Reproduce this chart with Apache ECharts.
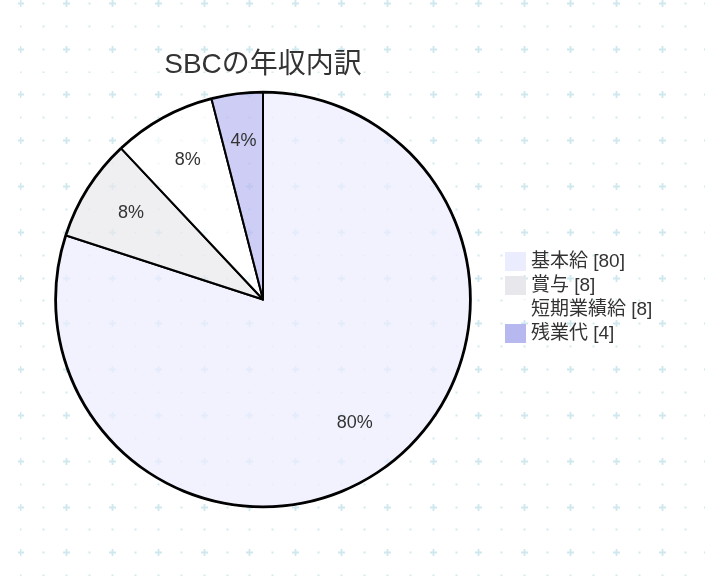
<!DOCTYPE html>
<html>
<head>
<meta charset="utf-8">
<script src="https://cdn.jsdelivr.net/npm/echarts@6/dist/echarts.min.js"></script>
<style>
html,body{margin:0;padding:0;background:#fff;}
#chart{
  width:705px;height:576px;
  background-image:url("data:image/svg+xml;utf8,<svg xmlns='http://www.w3.org/2000/svg' width='46' height='46' viewBox='0 0 46 46'><path d='M8 11.5h7M11.5 8v7' stroke='%23cfe8ee' stroke-width='1.8' fill='none'/><rect x='33.5' y='10.5' width='2' height='2' fill='%23d3eaef'/><rect x='10.5' y='33.5' width='2' height='2' fill='%23d3eaef'/><rect x='33.5' y='33.5' width='2' height='2' fill='%23d3eaef'/></svg>");
  background-size:45.8px 45.8px;
  background-position:9.55px -8.15px;
}
</style>
</head>
<body>
<div id="chart"></div>
<script>
const titleText = 'SBCの年収内訳';
const categories = ['基本給', '賞与', '短期業績給', '残業代'];
const values = [80, 8, 8, 4];
const colors = ['#ECECFF', '#e8e8ec', '#ffffff', '#b8b8f1'];

const FONT = '"Liberation Sans", Arial, "Noto Sans CJK JP", sans-serif';
const R = 207;
const CX = 263, CY = 299.5;
const LABEL_CY = 296.5;
const FILL_ALPHA = 0.7;

function withAlpha(hex, a) {
  const h = hex.replace('#', '');
  const r = parseInt(h.slice(0, 2), 16), g = parseInt(h.slice(2, 4), 16), b = parseInt(h.slice(4, 6), 16);
  return 'rgba(' + r + ',' + g + ',' + b + ',' + a + ')';
}

const chart = echarts.init(document.getElementById('chart'), null, {renderer: 'canvas'});

const mainData = categories.map((c, i) => ({
  name: c, value: values[i],
  itemStyle: {color: withAlpha(colors[i], FILL_ALPHA)}
}));
const plainData = categories.map((c, i) => ({name: c, value: values[i]}));
const legendData = categories.map((c, i) => ({name: c, itemStyle: {color: colors[i], opacity: 1, borderWidth: 0}}));

chart.setOption({
  backgroundColor: 'transparent',
  animation: false,
  title: {
    text: titleText,
    left: CX,
    top: 51,
    padding: 0,
    textAlign: 'center',
    textStyle: {fontFamily: FONT, fontSize: 28, fontWeight: 'normal', color: '#333'}
  },
  legend: {
    orient: 'vertical',
    left: 505,
    top: 252,
    padding: 0,
    itemWidth: 21,
    itemHeight: 19,
    itemGap: 5,
    icon: 'rect',
    data: legendData,
    itemStyle: {borderWidth: 0},
    textStyle: {fontFamily: FONT, fontSize: 19, color: '#333'},
    formatter: function (name) {
      const i = categories.indexOf(name);
      return name + ' [' + values[i] + ']';
    }
  },
  series: [
    {
      type: 'pie',
      center: [CX, CY],
      radius: [0, R],
      startAngle: 90,
      clockwise: true,
      avoidLabelOverlap: false,
      label: {show: false},
      labelLine: {show: false},
      emphasis: {disabled: true},
      itemStyle: {borderColor: '#000', borderWidth: 2},
      data: mainData
    },
    {
      type: 'pie',
      center: [CX, CY],
      radius: [R, R + 1.8],
      startAngle: 90,
      clockwise: true,
      silent: true,
      itemStyle: {color: '#000', borderWidth: 0},
      emphasis: {disabled: true},
      label: {show: false},
      labelLine: {show: false},
      data: plainData
    },
    {
      type: 'pie',
      center: [CX, LABEL_CY],
      radius: [R * 0.5 - 4, R],
      startAngle: 90,
      clockwise: true,
      silent: true,
      avoidLabelOverlap: false,
      itemStyle: {color: 'rgba(0,0,0,0)', borderWidth: 0},
      emphasis: {disabled: true},
      labelLine: {show: false},
      label: {
        show: true,
        position: 'inside',
        color: '#333',
        fontFamily: FONT,
        fontSize: 18,
        formatter: function (p) { return Math.round(p.percent) + '%'; }
      },
      data: plainData
    }
  ]
});
</script>
</body>
</html>
